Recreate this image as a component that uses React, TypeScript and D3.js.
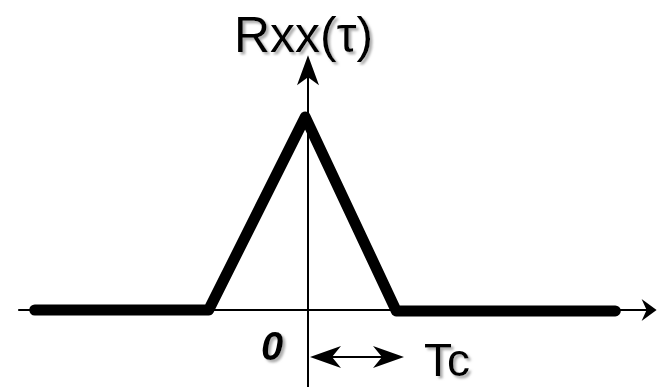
import React from "react";
import * as d3 from "d3";

// Autocorrelation of a PN code: triangle of width 2*Tc
const tauValues = [-2.97, -1.08, -0.03, 0.96, 3.34];
const rValues = [0, 0, 1, -0.005, -0.005];
const axisTauRange = [-3.15, 3.80];
const axisRRange = [-0.42, 1.32];
const tcSpan = [0, 1];
const yLabel = "Rxx(τ)";
const originLabel = "0";
const tcLabel = "Tc";

const W = 658;
const H = 387;

export default function App() {
  const x = d3.scaleLinear().domain([0, 1]).range([308, 400]);
  const y = d3.scaleLinear().domain([0, 1]).range([310, 117]);

  const pts: [number, number][] = tauValues.map((t, i) => [t, rValues[i]]);
  const line = d3
    .line<[number, number]>()
    .x((d) => x(d[0]))
    .y((d) => y(d[1]));

  const x0 = x(0);
  const y0 = y(0);
  const axL = x(axisTauRange[0]);
  const axR = x(axisTauRange[1]);
  const ayTop = y(axisRRange[1]);
  const ayBot = y(axisRRange[0]);

  // barbed arrowhead pointing in +x direction at tip (0,0)
  const head = (len: number, half: number, notch: number) =>
    `M0,0 L${-len},${-half} L${-len + notch},0 L${-len},${half} Z`;

  const arrowY = 357;
  const ta = x(tcSpan[0]) + 2;
  const tb = x(tcSpan[1]) + 4;

  const font = "'Liberation Sans', Arial, sans-serif";

  return (
    <svg
      width={W}
      height={H}
      style={{ position: "absolute", left: 0, top: 0, background: "#fff" }}
    >
      <defs>
        <filter id="sh" x="-10%" y="-10%" width="130%" height="140%">
          <feDropShadow dx={2.5} dy={2.5} stdDeviation={0.8} floodColor="#999" floodOpacity={0.8} />
        </filter>
      </defs>
      {/* axes */}
      <line x1={axL} y1={y0} x2={axR - 6} y2={y0} stroke="#000" strokeWidth={2} />
      <path d={head(15, 11, 5)} transform={`translate(${axR - 1},${y0})`} fill="#000" />
      <line x1={x0} y1={ayBot} x2={x0} y2={ayTop + 8} stroke="#000" strokeWidth={2} />
      <path
        d={head(30, 11, 8)}
        transform={`translate(${x0},${ayTop}) rotate(-90)`}
        fill="#000"
      />

      {/* triangle curve */}
      <path
        d={line(pts) || ""}
        fill="none"
        stroke="#000"
        strokeWidth={11}
        strokeLinejoin="round"
        strokeLinecap="round"
      />

      {/* Tc double arrow */}
      <line x1={ta + 10} y1={arrowY} x2={tb - 10} y2={arrowY} stroke="#000" strokeWidth={2} />
      <path d={head(31, 11, 9)} transform={`translate(${tb},${arrowY})`} fill="#000" />
      <path d={head(31, 11, 9)} transform={`translate(${ta},${arrowY}) rotate(180)`} fill="#000" />

      {/* labels with drop shadow */}
      {[
        { t: yLabel, xx: 234, yy: 52, fs: 50, fw: "normal", st: "normal" },
        { t: tcLabel, xx: 424, yy: 376, fs: 46, fw: "normal", st: "normal" },
        { t: originLabel, xx: 261, yy: 360, fs: 40, fw: "bold", st: "italic" },
      ].map((l, i) => (
        <text
          key={i}
          x={l.xx}
          y={l.yy}
          fontFamily={font}
          fontSize={l.fs}
          fontWeight={l.fw}
          fontStyle={l.st}
          fill="#000"
          filter="url(#sh)"
        >
          {l.t}
        </text>
      ))}
    </svg>
  );
}
